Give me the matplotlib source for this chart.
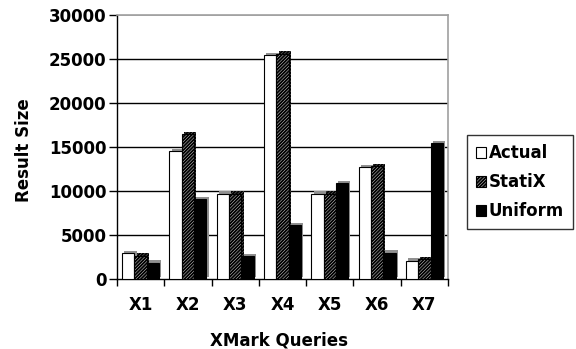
import matplotlib
matplotlib.use("Agg")
import matplotlib.pyplot as plt
import matplotlib.patheffects as pe
import numpy as np

plt.rcParams['font.family'] = ['DejaVu Sans']
plt.rcParams['font.weight'] = 'bold'
plt.rcParams['hatch.linewidth'] = 1.4

categories = ["X1", "X2", "X3", "X4", "X5", "X6", "X7"]
actual = [2900, 14500, 9700, 25400, 9700, 12700, 2100]
statix = [2650, 16500, 9700, 25600, 9700, 12800, 2250]
uniform = [1850, 9100, 2600, 6100, 10900, 3000, 15400]
series_names = ["Actual", "StatiX", "Uniform"]
yticks = [0, 5000, 10000, 15000, 20000, 25000, 30000]

FS = 12

fig = plt.figure(figsize=(5.76, 3.49), dpi=100)
ax = fig.add_axes([117/576, 1-279/349, (448-117)/576, (279-15)/349])

x = np.arange(len(categories))
w = 0.26
shadow = [pe.SimplePatchShadow(offset=(1.6, 1.6), shadow_rgbFace='#909090', alpha=1.0), pe.Normal()]

b1 = ax.bar(x - w, actual, w, color='white', edgecolor='black', linewidth=0.8, zorder=3, label=series_names[0])
b2 = ax.bar(x, statix, w, color='white', edgecolor='black', hatch='//////////', linewidth=0.8, zorder=3, label=series_names[1])
b3 = ax.bar(x + w, uniform, w, color='black', edgecolor='black', linewidth=0.8, zorder=3, label=series_names[2])
for bars in (b1, b2, b3):
    for p in bars:
        p.set_path_effects(shadow)

ax.set_xlim(-0.5, len(categories) - 0.5)
ax.set_ylim(0, 30000)
ax.set_yticks(yticks)
ax.set_yticklabels([str(v) for v in yticks], fontsize=FS, fontweight='bold')
for v in yticks[1:-1]:
    ax.axhline(v, color='black', linewidth=1.0, zorder=1)
ax.axhline(30000, color='#a0a0a0', linewidth=1.2, zorder=1)

ax.set_xticks(x)
ax.set_xticklabels(categories, fontsize=FS, fontweight='bold')
ax.tick_params(axis='x', length=0, pad=12)
ax.set_xticks(np.arange(len(categories) + 1) - 0.5, minor=True)
ax.tick_params(axis='x', which='minor', length=5, width=1, direction='out', color='black')
ax.tick_params(axis='y', length=6, width=1, direction='out', pad=1.5)

for s in ['top', 'right']:
    ax.spines[s].set_color('#a0a0a0')
    ax.spines[s].set_linewidth(1.2)
for s in ['left', 'bottom']:
    ax.spines[s].set_color('black')
    ax.spines[s].set_linewidth(1.0)

ax.set_ylabel("Result Size", fontsize=FS, fontweight='bold')
ax.yaxis.set_label_coords(-0.254, 0.49)
ax.set_xlabel("XMark Queries", fontsize=FS, fontweight='bold')
ax.xaxis.set_label_coords(0.49, -0.197)

leg = fig.legend(handles=[b1, b2, b3], labels=series_names, loc='upper left',
                 bbox_to_anchor=(467/576, 1-135/349), fontsize=FS, frameon=True,
                 fancybox=False, edgecolor='black', handlelength=0.6, handleheight=0.6,
                 handletextpad=0.15, borderpad=0.55, labelspacing=0.66, borderaxespad=0)
leg.get_frame().set_linewidth(1.0)
for t in leg.get_texts():
    t.set_fontweight('bold')
for h in leg.legend_handles:
    h.set_path_effects([])

fig.savefig("out.png", dpi=100)
